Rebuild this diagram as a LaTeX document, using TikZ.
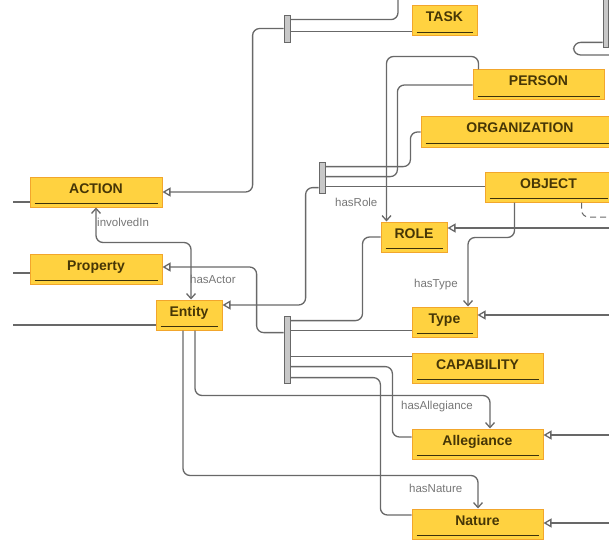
\documentclass[tikz,border=0pt]{standalone}
\usepackage{fontspec}
\setmainfont{Liberation Sans}
\usepackage{xcolor}
\usepackage{tikz}
\usetikzlibrary{arrows.meta}

\definecolor{clsfill}{RGB}{255,210,64}
\definecolor{clsborder}{RGB}{242,166,44}
\definecolor{clstext}{RGB}{70,54,6}
\definecolor{ulinecol}{RGB}{60,50,12}
\definecolor{conncol}{RGB}{104,104,104}
\definecolor{barfill}{RGB}{200,200,200}
\definecolor{lblcol}{RGB}{118,118,118}

\tikzset{
    cls/.style={draw=clsborder, fill=clsfill, line width=1pt, text=clstext,
        font=\bfseries\fontsize{14}{14}\selectfont, inner xsep=0pt, inner ysep=0pt,
        text height=16pt, text depth=14pt, minimum height=30pt},
    uline/.style={draw=ulinecol, line width=1.5pt},
    bar/.style={draw=conncol, fill=barfill, line width=0.8pt, inner sep=0pt, minimum width=6pt},
    conn/.style={draw=conncol, line width=1.3pt, rounded corners=7pt},
    gen/.style={conn, -{Triangle[open, length=8pt, width=9pt]}},
    assoc/.style={conn, -{Straight Barb[length=5pt, width=9pt]}},
    assocboth/.style={conn, {Straight Barb[length=5pt, width=9pt]}-{Straight Barb[length=5pt, width=9pt]}},
    lbl/.style={text=lblcol, font=\fontsize{11.5}{12}\selectfont, inner sep=0pt, anchor=west}
}

\begin{document}
\begin{tikzpicture}[x=1pt, y=-1pt]
            \useasboundingbox (0,0) rectangle (609,540);

            \node[cls, minimum width=65pt] (task) at (444.5,21) {TASK};
            \node[cls, minimum width=131pt] (person) at (538.5,85) {PERSON};
            \node[cls, minimum width=198pt] (organization) at (520,132) {ORGANIZATION};
            \node[cls, minimum width=127pt] (object) at (548.5,187) {OBJECT};
            \node[cls, minimum width=132pt] (action) at (96,192) {ACTION};
            \node[cls, minimum width=66pt] (role) at (414,237) {ROLE};
            \node[cls, minimum width=132pt] (property) at (96,269) {Property};
            \node[cls, minimum width=66pt] (entity) at (189,315) {Entity};
            \node[cls, minimum width=65pt] (type) at (444.5,322) {Type};
            \node[cls, minimum width=131pt] (capability) at (477.5,368) {CAPABILITY};
            \node[cls, minimum width=131pt] (allegiance) at (477.5,444) {Allegiance};
            \node[cls, minimum width=131pt] (nature) at (477.5,524) {Nature};
            \foreach \n in {task,person,organization,object,action,role,property,entity,type,capability,allegiance,nature}
                \draw[uline] ([xshift=5pt,yshift=4pt]\n.south west) -- ([xshift=-5pt,yshift=4pt]\n.south east);

            \node[bar, minimum height=27pt] (bartop) at (287,28.5) {};
            \node[bar, minimum height=52pt, minimum width=5pt] (barcorner) at (605.5,21) {};
            \node[bar, minimum height=31pt] (barrole) at (322,177.5) {};
            \node[bar, minimum height=67pt] (barmid) at (287,349.5) {};

            % loose ends at the border
            \coordinate (topout) at (398,-5);
            \coordinate (cornerout) at (615,55);
            \coordinate (dashout) at (615,217);
            \coordinate (roleout) at (615,228);
            \coordinate (typeout) at (615,315);
            \coordinate (allegout) at (615,435);
            \coordinate (natureout) at (615,523);
            \coordinate (actionin) at (13,202);
            \coordinate (propin) at (13,273);
            \coordinate (entityin) at (13,325);

            \draw[gen] (bartop.west) -- ++(-31,0) |- (action.east);
            \draw[conn] ([yshift=-5pt]bartop.north east) -| (topout);
            \coordinate (t1) at ([yshift=-17pt]bartop.north east);
            \draw[conn] (t1) -- (task.west |- t1);
            \draw[conn] ([yshift=5pt]barcorner.south west) -- ++(-29,0) |- (cornerout);

            \draw[conn] ([yshift=-5pt]barrole.north east) -- ++(85,0) |- (organization.west);
            \draw[conn] ([yshift=-15pt]barrole.north east) -- ++(72,0) |- (person.west);
            \coordinate (r3) at ([yshift=-25pt]barrole.north east);
            \draw[conn] (r3) -- (object.west |- r3);
            \draw[gen] ([yshift=-26pt]barrole.north west) -- ++(-13,0) |- ([yshift=10pt]entity.east);

            \draw[assoc] ([xshift=6pt]person.north west) -- ++(0,-13) -| ([xshift=6pt]role.north west);
            \node[lbl] (hasrole) at (335,202) {hasRole};
            \draw[assoc] ([xshift=30pt]object.south west) -- ++(0,35) -| ([xshift=23.5pt]type.north);
            \node[lbl] (hastype) at (414,285) {hasType};
            \draw[conn, dash pattern=on 6pt off 4pt, line width=1pt] ([xshift=97pt]object.south west) |- (dashout);
            \draw[gen] (roleout) -- (role.east |- roleout);

            \draw[conn] (role.west) -- ++(-18,0) |- ([yshift=-5pt]barmid.north east);
            \coordinate (m2) at ([yshift=-15pt]barmid.north east);
            \draw[conn] (m2) -- (type.west |- m2);
            \coordinate (m3) at ([yshift=-41pt]barmid.north east);
            \draw[conn] (m3) -- (capability.west |- m3);
            \draw[conn] ([yshift=-51pt]barmid.north east) -- ++(102,0) |- ([yshift=7pt]allegiance.west);
            \draw[conn] ([yshift=-62pt]barmid.north east) -- ++(90,0) |- ([yshift=9pt]nature.west);
            \draw[gen] ([yshift=-17pt]barmid.north west) -- ++(-27,0) |- ([yshift=2pt]property.east);

            \draw[assocboth] (action.south) -- ++(0,35) -| ([xshift=2pt]entity.north);
            \node[lbl] (involvedin) at (97,222) {involvedIn};
            \node[lbl] (hasactor) at (190,279) {hasActor};
            \draw[assoc] ([xshift=6pt]entity.south) -- ++(0,65) -| ([xshift=12.5pt]allegiance.north);
            \node[lbl] (hasallegiance) at (401,407) {hasAllegiance};
            \draw[assoc] ([xshift=-6pt]entity.south) -- ++(0,145) -| ([xshift=0.5pt]nature.north);
            \node[lbl] (hasnature) at (409,488) {hasNature};

            \draw[gen] (typeout) -- (type.east |- typeout);
            \draw[gen] (allegout) -- (allegiance.east |- allegout);
            \draw[gen] (natureout) -- (nature.east |- natureout);

            \draw[conn] (actionin) -- (action.west |- actionin);
            \draw[conn] (propin) -- (property.west |- propin);
            \draw[conn] (entityin) -- (entity.west |- entityin);
\end{tikzpicture}
\end{document}
